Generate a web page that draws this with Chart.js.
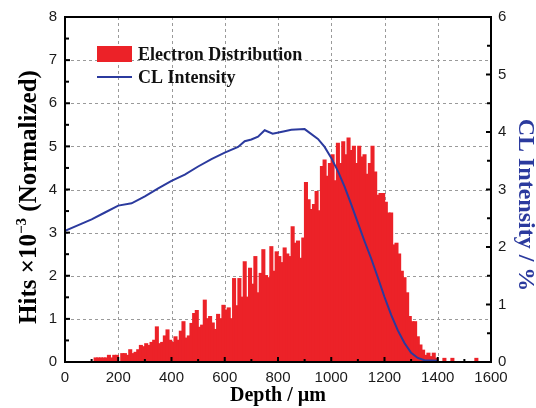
<!DOCTYPE html>
<html>
<head>
<meta charset="utf-8">
<script src="https://cdn.jsdelivr.net/npm/chart.js@4.4.0/dist/chart.umd.min.js"></script>
<style>
  html, body { margin: 0; padding: 0; background: #fff; }
  #wrap { width: 536px; height: 408px; }
</style>
</head>
<body>
<div id="wrap"><canvas id="depthChart" width="536" height="408"></canvas></div>
<script>
// electron hits per 10 um bin, first bin starts at 100 um (x10^-3, normalized)
const binStart = 100;
const binWidth = 10;
const hits = [
  0, 0.09, 0.09, 0.09, 0.09, 0.09, 0.15, 0.09, 0.15, 0.15,
  0, 0.19, 0.19, 0.15, 0.28, 0.19, 0.22, 0.28, 0.38, 0.35,
  0.42, 0.38, 0.45, 0.5, 0.81, 0.42, 0.45, 0.6, 0.74, 0.5,
  0.45, 0.58, 0.5, 0.71, 0.93, 0.55, 0.6, 0.89, 1.12, 1.19,
  0.8, 0.85, 1.43, 1.0, 1.05, 0.9, 0.75, 1.1, 1.0, 1.31,
  1.2, 1.25, 1.0, 1.93, 1.3, 1.93, 1.5, 2.32, 1.5, 2.17,
  1.8, 2.44, 1.6, 2.05, 2.6, 2.0, 1.95, 2.67, 2.1, 2.55,
  2.44, 2.3, 2.64, 2.5, 2.44, 3.13, 2.75, 2.8, 2.4, 2.87,
  4.16, 3.76, 3.53, 3.65, 3.95, 3.5, 4.53, 4.68, 4.3, 4.6,
  4.8, 4.2, 5.07, 4.6, 5.1, 4.8, 5.19, 4.9, 5.0, 4.6,
  5.0, 4.75, 4.8, 4.35, 4.6, 5.0, 4.4, 3.86, 3.9, 3.9,
  3.7, 3.45, 3.45, 2.71, 2.75, 2.5, 2.1, 1.95, 1.6, 1.05,
  0.93, 0.93, 0.58, 0.39, 0.27, 0.15, 0.2, 0.12, 0.2, 0.08,
  0, 0, 0.08, 0, 0, 0.08, 0, 0, 0, 0,
  0, 0, 0, 0, 0.08, 0
];

// CL intensity curve (right axis, %)
const clDepth = [0, 50, 100, 150, 200, 250, 300, 350, 400, 450, 500, 550, 600, 650, 675, 700, 725, 750, 780, 820, 850, 900,
  950, 975, 1000, 1025, 1050, 1075, 1100, 1125, 1150, 1175, 1200, 1225, 1250, 1275, 1300, 1325, 1350, 1400];
const clIntensity = [2.28, 2.38, 2.48, 2.6, 2.72, 2.76, 2.88, 3.02, 3.15, 3.26, 3.4, 3.53, 3.64, 3.74, 3.84, 3.87, 3.92, 4.03, 3.97, 4.01, 4.04, 4.05,
  3.88, 3.74, 3.55, 3.32, 3.05, 2.74, 2.42, 2.1, 1.8, 1.47, 1.13, 0.82, 0.55, 0.33, 0.16, 0.07, 0.03, 0.02];

const red = 'rgb(236,34,40)';
const blue = '#2b3a9e';
const serif = "'Liberation Serif', 'Times New Roman', serif";
const sans = "'Liberation Sans', Arial, sans-serif";

const hitPoints = hits.map((v, i) => ({ x: binStart + binWidth * (i + 0.5), y: v }));
const clPoints = clDepth.map((d, i) => ({ x: d, y: clIntensity[i] }));

function seg(ctx, x1, y1, x2, y2) {
  ctx.beginPath(); ctx.moveTo(x1, y1); ctx.lineTo(x2, y2); ctx.stroke();
}

// dashed grid, frame, inward tick marks, legend and the two side titles
const decorations = {
  id: 'decorations',
  beforeDatasetsDraw(chart) {
    const { ctx, chartArea: a, scales } = chart;
    ctx.save();
    ctx.strokeStyle = '#9a9a9a';
    ctx.lineWidth = 1;
    ctx.setLineDash([3, 3]);
    for (let v = 200; v < 1600; v += 200) {
      const px = Math.round(scales.x.getPixelForValue(v)) + 0.5;
      seg(ctx, px, a.top, px, a.bottom);
    }
    for (let v = 1; v < 8; v++) {
      const py = Math.round(scales.y.getPixelForValue(v)) + 0.5;
      seg(ctx, a.left, py, a.right, py);
    }
    ctx.restore();
  },
  afterDatasetsDraw(chart) {
    const { ctx, chartArea: a, scales } = chart;
    ctx.save();
    ctx.strokeStyle = '#000';
    ctx.lineWidth = 2;
    for (let v = 0; v <= 1600; v += 100) {
      const px = scales.x.getPixelForValue(v);
      seg(ctx, px, a.bottom, px, a.bottom - (v % 200 === 0 ? 5 : 3));
    }
    for (let v = 0; v <= 8; v += 0.5) {
      const py = scales.y.getPixelForValue(v);
      seg(ctx, a.left, py, a.left + (v % 1 === 0 ? 5 : 4), py);
    }
    for (let v = 0; v <= 6; v += 0.5) {
      const py = scales.y1.getPixelForValue(v);
      seg(ctx, a.right, py, a.right - (v % 1 === 0 ? 5 : 4), py);
    }
    ctx.strokeRect(a.left, a.top, a.right - a.left, a.bottom - a.top);
    ctx.restore();
  },
  afterDraw(chart) {
    const { ctx } = chart;
    ctx.save();
    // legend
    ctx.fillStyle = red;
    ctx.fillRect(97, 46, 35, 16);
    ctx.strokeStyle = blue;
    ctx.lineWidth = 2;
    seg(ctx, 97, 77, 132, 77);
    ctx.fillStyle = '#111';
    ctx.font = 'bold 18px ' + serif;
    ctx.textBaseline = 'middle';
    ctx.textAlign = 'left';
    ctx.fillText('Electron Distribution', 138, 55);
    ctx.fillText('CL Intensity', 138, 78);

    // left title with superscript
    ctx.translate(36, 197);
    ctx.rotate(-Math.PI / 2);
    ctx.textBaseline = 'alphabetic';
    const big = 'bold 25px ' + serif;
    const small = 'bold 15px ' + serif;
    const p1 = 'Hits \u00d710', p2 = '\u22123', p3 = ' (Normalized)';
    ctx.font = big; const w1 = ctx.measureText(p1).width, w3 = ctx.measureText(p3).width;
    ctx.font = small; const w2 = ctx.measureText(p2).width;
    let x = -(w1 + w2 + w3) / 2;
    ctx.fillStyle = '#000';
    ctx.font = big; ctx.fillText(p1, x, 0); x += w1;
    ctx.font = small; ctx.fillText(p2, x, -10); x += w2;
    ctx.font = big; ctx.fillText(p3, x, 0);
    ctx.restore();

    // right title
    ctx.save();
    ctx.translate(519, 205);
    ctx.rotate(Math.PI / 2);
    ctx.fillStyle = blue;
    ctx.font = 'bold 24px ' + serif;
    ctx.textAlign = 'center';
    ctx.textBaseline = 'alphabetic';
    ctx.fillText('CL Intensity / %', 0, 0);
    ctx.restore();
  }
};

new Chart(document.getElementById('depthChart'), {
  type: 'bar',
  data: {
    datasets: [
      {
        type: 'line',
        label: 'CL Intensity',
        data: clPoints,
        yAxisID: 'y1',
        borderColor: blue,
        borderWidth: 2,
        pointRadius: 0,
        tension: 0,
        order: 0
      },
      {
        label: 'Electron Distribution',
        data: hitPoints,
        yAxisID: 'y',
        backgroundColor: red,
        borderWidth: 0,
        barPercentage: 1,
        categoryPercentage: 1,
        inflateAmount: 0.7,
        order: 1
      }
    ]
  },
  options: {
    responsive: false,
    animation: false,
    layout: { padding: { top: 17, left: 0, right: 0, bottom: 0 } },
    plugins: { legend: { display: false }, tooltip: { enabled: false } },
    scales: {
      x: {
        type: 'linear',
        min: 0, max: 1600,
        offset: false,
        grid: { display: false, offset: false, drawTicks: false },
        border: { display: false },
        ticks: { stepSize: 200, padding: 7, color: '#1a1a1a', font: { family: sans, size: 15 }, maxRotation: 0, callback: v => String(v) },
        title: { display: true, text: 'Depth / \u00b5m', color: '#000', font: { family: serif, size: 20, weight: 'bold' }, padding: { top: 0, bottom: 0 } },
        afterFit(s) { s.height = 46; }
      },
      y: {
        position: 'left',
        min: 0, max: 8,
        grid: { display: false, drawTicks: false },
        border: { display: false },
        ticks: { stepSize: 1, padding: 8, color: '#1a1a1a', font: { family: sans, size: 15 } },
        afterFit(s) { s.width = 65; }
      },
      y1: {
        position: 'right',
        min: 0, max: 6,
        grid: { display: false, drawTicks: false },
        border: { display: false },
        ticks: { stepSize: 1, padding: 7, color: '#1a1a1a', font: { family: sans, size: 15 } },
        afterFit(s) { s.width = 45; }
      }
    }
  },
  plugins: [decorations]
});
</script>
</body>
</html>
